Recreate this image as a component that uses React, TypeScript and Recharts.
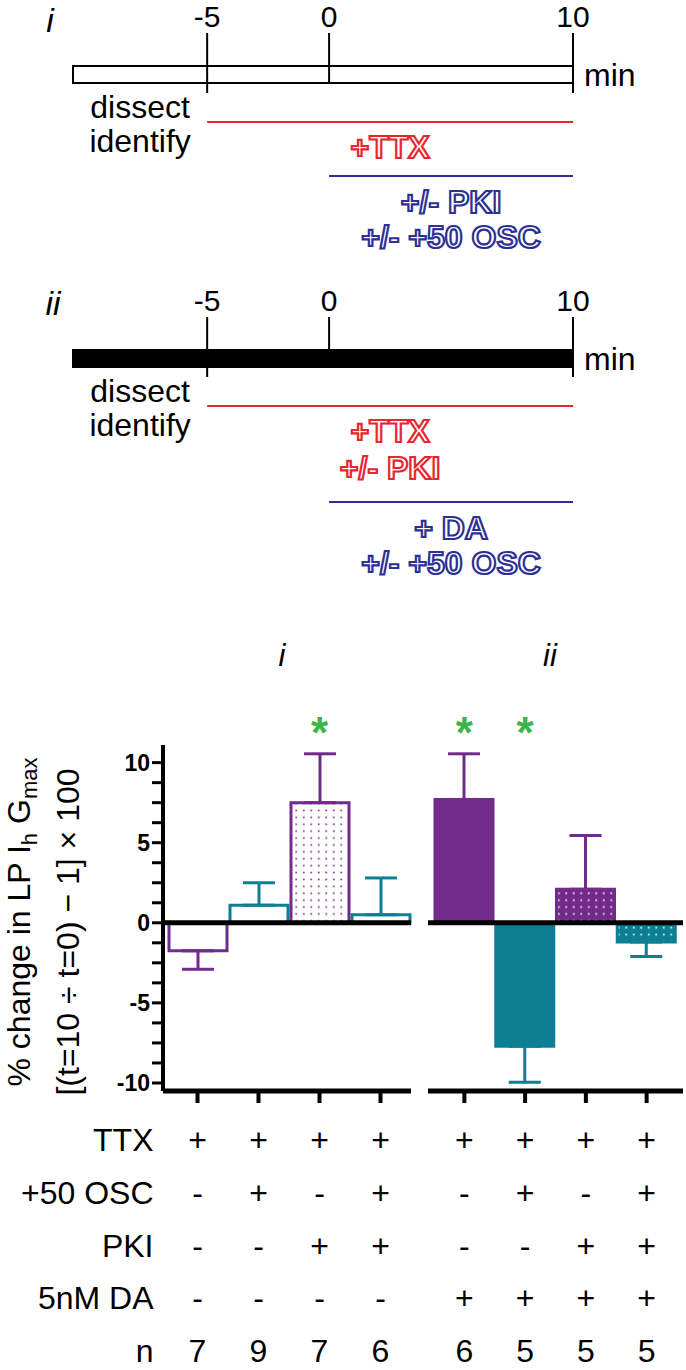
import React from "react";
import {
  BarChart, Bar, Cell, ComposedChart, XAxis, YAxis, ErrorBar,
  ReferenceLine, ReferenceArea, ReferenceDot,
} from "recharts";

const FONT = "'Liberation Sans', Arial, Helvetica, sans-serif";
const RED = "#e8262f";
const BLUE = "#2e3192";
const PURPLE = "#722a8b";
const TEAL = "#0d7f95";
const GREEN = "#3bb44a";

// protocol timelines, in minutes
const panelNames = ["i", "ii"];
const timeTicks = [-5, 0, 10];
const timeStart = -10.5; // unlabelled left end of the bar (estimated)
const timeEnd = 10;
const prepLines = ["dissect", "identify"];
const ttxWindow = [-5, 10];
const drugWindow = [0, 10];
const ttxLines = [["+TTX"], ["+TTX", "+/- PKI"]];
const drugLines = [["+/- PKI", "+/- +50 OSC"], ["+ DA", "+/- +50 OSC"]];
const barFills = ["#ffffff", "#000000"];

// % change in LP Ih Gmax, mean and SEM per condition
const groupNames = ["i", "ii"];
const conditions = ["c1", "c2", "c3", "c4", "c5", "c6", "c7", "c8"];
const meanChange = [-1.75, 1.1, 7.5, 0.5, 7.7, -7.7, 2.1, -1.2];
const semChange = [1.15, 1.4, 3.05, 2.3, 2.85, 2.25, 3.35, 0.9];
const isTeal = [false, true, false, true, false, true, false, true];
const isFilled = [false, false, false, false, true, true, true, true];
const isDotted = [false, false, true, false, false, false, true, true];
const isSignificant = [false, false, true, false, true, true, false, false];
const yTicks = [-10, -8.75, -7.5, -6.25, -5, -3.75, -2.5, -1.25, 0, 1.25, 2.5, 3.75, 5, 6.25, 7.5, 8.75, 10];
const yLabelled = [-10, -5, 0, 5, 10];

// condition table under the bars
const rowNames = ["TTX", "+50 OSC", "PKI", "5nM DA", "n"];
const ttxRow = ["+", "+", "+", "+", "+", "+", "+", "+"];
const oscRow = ["-", "+", "-", "+", "-", "+", "-", "+"];
const pkiRow = ["-", "-", "+", "+", "-", "-", "+", "+"];
const daRow = ["-", "-", "-", "-", "+", "+", "+", "+"];
const nRow = ["7", "9", "7", "6", "6", "5", "5", "5"];
const tableRows = [ttxRow, oscRow, pkiRow, daRow, nRow];

const barData = conditions.map((id, i) => {
  const err = meanChange[i] >= 0 ? [0, semChange[i]] : [semChange[i], 0];
  return {
    id,
    value: meanChange[i],
    errPurple: isTeal[i] ? null : err,
    errTeal: isTeal[i] ? err : null,
  };
});
const groups = [barData.slice(0, 4), barData.slice(4)];

// ---------- timeline pieces ----------
const TL_H = 300;
const TL = { tickTop: 33, barTop: 66, barBottom: 83, tickBottom: 93 };
const periodY = [[122, 176], [122, 218]];

function TickLabel({ viewBox, text }: any) {
  const x = viewBox.x + (viewBox.width || 0) / 2;
  return (
    <text x={x} y={viewBox.y - 6} textAnchor="middle" fontSize={30} fontFamily={FONT} fill="#000">
      {text}
    </text>
  );
}

function MinLabel({ viewBox }: any) {
  return (
    <text x={viewBox.x + viewBox.width + 11} y={viewBox.y + viewBox.height / 2} dominantBaseline="central"
      fontSize={32} fontFamily={FONT} fill="#000">
      min
    </text>
  );
}

function StackLabel({ viewBox, lines, color, outlined, first, gap }: any) {
  const cx = viewBox.x + viewBox.width / 2;
  return (
    <g>
      {lines.map((s: string, k: number) => (
        <text key={k} x={cx} y={viewBox.y + first + k * gap} textAnchor="middle" fontFamily={FONT}
          fontSize={32} fontWeight={outlined ? "bold" : "normal"}
          fill={outlined ? "#fff" : color} stroke={outlined ? color : "none"} strokeWidth={outlined ? 2.2 : 0}>
          {s}
        </text>
      ))}
    </g>
  );
}

function Timeline({ p }: { p: number }) {
  const [redY, blueY] = periodY[p];
  return (
    <ComposedChart width={686} height={TL_H} data={timeTicks.map((t) => ({ t }))}
      margin={{ top: 0, right: 113, bottom: 0, left: 73 }}>
      <XAxis type="number" dataKey="t" domain={[timeStart, timeEnd]} hide allowDataOverflow />
      <YAxis type="number" domain={[0, TL_H]} reversed hide allowDataOverflow />
      <ReferenceArea x1={timeStart} x2={timeEnd} y1={TL.barTop} y2={TL.barBottom} fill={barFills[p]}
        fillOpacity={1} stroke="#000" strokeWidth={2} ifOverflow="visible" label={<MinLabel />} />
      {timeTicks.map((t) => (
        <ReferenceLine key={t} segment={[{ x: t, y: TL.tickTop }, { x: t, y: t === 0 ? TL.barBottom : TL.tickBottom }]}
          stroke="#000" strokeWidth={2} ifOverflow="visible" label={<TickLabel text={String(t)} />} />
      ))}
      <ReferenceLine segment={[{ x: timeStart, y: TL.tickBottom }, { x: ttxWindow[0], y: TL.tickBottom }]}
        stroke="none" ifOverflow="visible"
        label={<StackLabel lines={prepLines} color="#000" first={25} gap={34} />} />
      <ReferenceLine segment={[{ x: ttxWindow[0], y: redY }, { x: ttxWindow[1], y: redY }]}
        stroke={RED} strokeWidth={2} ifOverflow="visible"
        label={<StackLabel lines={ttxLines[p]} color={RED} outlined first={36} gap={37} />} />
      <ReferenceLine segment={[{ x: drugWindow[0], y: blueY }, { x: drugWindow[1], y: blueY }]}
        stroke={BLUE} strokeWidth={2} ifOverflow="visible"
        label={<StackLabel lines={drugLines[p]} color={BLUE} outlined first={37} gap={35} />} />
    </ComposedChart>
  );
}

// ---------- bar chart pieces ----------
function fillFor(i: number, prefix: string) {
  const color = isTeal[i] ? TEAL : PURPLE;
  if (isDotted[i]) {
    if (!isFilled[i]) return `url(#${prefix}-dots-purple)`;
    return `url(#${prefix}-dots-on-${isTeal[i] ? "teal" : "purple"})`;
  }
  return isFilled[i] ? color : "#fff";
}

const ROW_START = 37;
const ROW_GAP = 52.8;

function TableTick(props: any) {
  const { x, y, payload, showNames } = props;
  const i = conditions.indexOf(payload.value);
  return (
    <g fontFamily={FONT} fontSize={32} fill="#000">
      {tableRows.map((row, r) => (
        <text key={r} x={x} y={y + ROW_START + r * ROW_GAP} textAnchor="middle" dominantBaseline="central" fill="#000">
          {row[i]}
        </text>
      ))}
      {showNames && i === 0 && rowNames.map((name, r) => (
        <text key={"n" + r} x={x - 44} y={y + ROW_START + r * ROW_GAP} textAnchor="end" dominantBaseline="central" fill="#000">
          {name}
        </text>
      ))}
    </g>
  );
}

function YTitle({ viewBox }: any) {
  const cy = viewBox.y + viewBox.height / 2;
  return (
    <g fontFamily={FONT} fill="#000">
      <text transform={`translate(30, ${cy + 4}) rotate(-90)`} textAnchor="middle" fontSize={32} fill="#000">
        % change in LP I<tspan fontSize={22} dy={7}>h</tspan>
        <tspan dy={-7}> G</tspan>
        <tspan fontSize={22} dy={7}>max</tspan>
      </text>
      <text transform={`translate(79, ${cy + 14}) rotate(-90)`} textAnchor="middle" fontSize={32} fill="#000">
        [(t=10 ÷ t=0) − 1] × 100
      </text>
    </g>
  );
}

function Star({ viewBox }: any) {
  const cx = viewBox.x + viewBox.width / 2;
  const cy = viewBox.y + viewBox.height / 2;
  return (
    <text x={cx} y={cy + 25} textAnchor="middle" fontSize={44} fontWeight="bold" fontFamily={FONT} fill={GREEN}>
      *
    </text>
  );
}

function BarPanel({ g }: { g: number }) {
  const first = g === 0;
  const data = groups[g];
  const prefix = "g" + g;
  return (
    <BarChart width={first ? 420 : 266} height={770} data={data}
      margin={{ top: 145, right: first ? 9 : 3, bottom: 0, left: first ? 0 : 8 }}
      barCategoryGap={0} barSize={58}>
      <defs>
        <pattern id={`${prefix}-dots-purple`} width={7.5} height={6.9} patternUnits="userSpaceOnUse">
          <rect width={7.5} height={6.9} fill="#fff" />
          <circle cx={3.75} cy={3.45} r={0.9} fill={PURPLE} />
        </pattern>
        <pattern id={`${prefix}-dots-on-purple`} width={7.5} height={6.9} patternUnits="userSpaceOnUse">
          <rect width={7.5} height={6.9} fill={PURPLE} />
          <circle cx={3.75} cy={3.45} r={0.9} fill="#fff" />
        </pattern>
        <pattern id={`${prefix}-dots-on-teal`} width={7.5} height={6.9} patternUnits="userSpaceOnUse">
          <rect width={7.5} height={6.9} fill={TEAL} />
          <circle cx={3.75} cy={3.45} r={0.9} fill="#fff" />
        </pattern>
      </defs>
      <XAxis dataKey="id" type="category" height={279} interval={0}
        padding={first ? { left: 4, right: 0 } : { left: 6, right: 6 }}
        axisLine={{ stroke: "#000", strokeWidth: 5 }} tickLine={{ stroke: "#000", strokeWidth: 4 }}
        tickSize={12} tickMargin={0}
        tick={(p: any) => <TableTick {...p} showNames={first} />} />
      <YAxis type="number" domain={[-10.5, 11.1]} allowDataOverflow ticks={yTicks} interval={0}
        hide={!first} width={163} tickSize={11} tickMargin={2}
        tickFormatter={(v: number) => (yLabelled.includes(v) ? String(v) : "")}
        tick={{ fill: "#000", fontSize: 23, fontWeight: "bold", fontFamily: FONT }}
        axisLine={{ stroke: "#000", strokeWidth: 4 }} tickLine={{ stroke: "#000", strokeWidth: 3 }}
        label={<YTitle />} />
      <Bar dataKey="value" isAnimationActive={false}>
        {data.map((d) => {
          const i = conditions.indexOf(d.id);
          return <Cell key={d.id} fill={fillFor(i, prefix)} stroke={isTeal[i] ? TEAL : PURPLE} strokeWidth={3} />;
        })}
        <ErrorBar dataKey="errPurple" stroke={PURPLE} strokeWidth={3} width={16} isAnimationActive={false} />
        <ErrorBar dataKey="errTeal" stroke={TEAL} strokeWidth={3} width={16} isAnimationActive={false} />
      </Bar>
      <ReferenceLine y={0} stroke="#000" strokeWidth={5} />
      {data.filter((d) => isSignificant[conditions.indexOf(d.id)]).map((d) => (
        <ReferenceDot key={d.id} x={d.id} y={12.48} r={0} ifOverflow="visible" label={<Star />} />
      ))}
    </BarChart>
  );
}

export default function App() {
  return (
    <div style={{ position: "relative", width: 686, height: 1370, background: "#fff", fontFamily: FONT }}>
      <style>{"body{margin:0}"}</style>
      <div style={{ position: "absolute", left: 0, top: 0 }}>
        <Timeline p={0} />
      </div>
      <div style={{ position: "absolute", left: 0, top: 284 }}>
        <Timeline p={1} />
      </div>
      <div style={{ position: "absolute", left: 0, top: 600 }}>
        <BarPanel g={0} />
      </div>
      <div style={{ position: "absolute", left: 420, top: 600 }}>
        <BarPanel g={1} />
      </div>
      <svg width={686} height={1370} style={{ position: "absolute", left: 0, top: 0, pointerEvents: "none" }}>
        <g fontFamily={FONT} fontStyle="italic" fill="#000" fontSize={34}>
          <text x={50} y={20} textAnchor="middle" dominantBaseline="central">{panelNames[0]}</text>
          <text x={53} y={303} textAnchor="middle" dominantBaseline="central">{panelNames[1]}</text>
        </g>
        <g fontFamily={FONT} fontStyle="italic" fill="#000" fontSize={31}>
          <text x={282} y={655} textAnchor="middle" dominantBaseline="central">{groupNames[0]}</text>
          <text x={550} y={655} textAnchor="middle" dominantBaseline="central">{groupNames[1]}</text>
        </g>
      </svg>
    </div>
  );
}
